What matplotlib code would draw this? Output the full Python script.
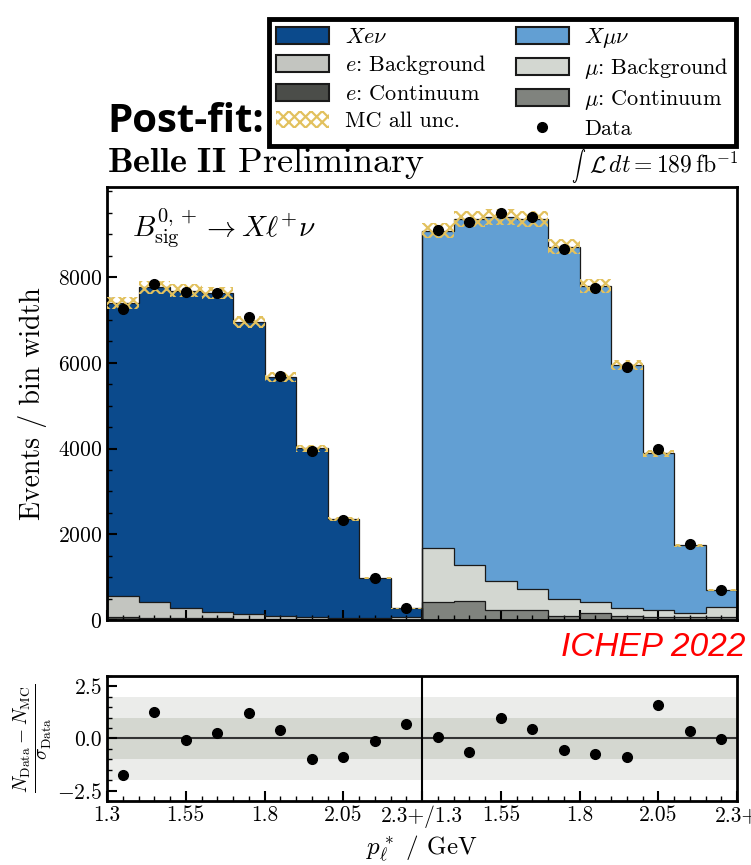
import numpy as np
import matplotlib
matplotlib.use("Agg")
import matplotlib.pyplot as plt
from matplotlib.patches import Patch
from matplotlib.lines import Line2D
from matplotlib.ticker import MultipleLocator, FixedLocator

plt.rcParams["font.family"] = "cmr10"
plt.rcParams["mathtext.fontset"] = "cm"
plt.rcParams["axes.formatter.use_mathtext"] = True
plt.rcParams["hatch.linewidth"] = 1.6

# ------------------------------------------------------------
# Data (p_l* bins of 0.1 GeV, 1.3 .. 2.3+), per channel
# ------------------------------------------------------------
x_ticklabels = ["1.3", "1.55", "1.8", "2.05", "2.3+/1.3", "1.55", "1.8", "2.05", "2.3+"]

e_signal = [6827, 7332, 7393, 7432, 6826, 5567, 3926, 2301, 943, 202]
e_bkg = [507, 373, 238, 150, 97, 71, 53, 35, 30, 58]
e_cont = [60, 55, 50, 45, 35, 30, 25, 20, 15, 12]
e_unc = [150, 155, 150, 150, 140, 110, 80, 45, 20, 8]
e_data = [7254, 7837, 7658, 7635, 7075, 5691, 3950, 2332, 972, 288]
e_pull = [-1.76, 1.25, -0.08, 0.24, 1.22, 0.41, -0.97, -0.87, -0.13, 0.71]

mu_signal = [7408, 8063, 8492, 8616, 8226, 7387, 5675, 3661, 1578, 405]
mu_bkg = [1260, 840, 684, 497, 389, 257, 179, 148, 109, 233]
mu_cont = [412, 443, 233, 233, 93, 155, 93, 78, 62, 62]
mu_unc = [180, 185, 185, 185, 175, 160, 120, 75, 35, 15]
mu_data = [9096, 9276, 9502, 9409, 8646, 7753, 5909, 3980, 1773, 700]
mu_pull = [0.06, -0.63, 1.0, 0.46, -0.56, -0.73, -0.87, 1.59, 0.35, -0.02]

# colours
C_E_SIG = "#0b4a8c"
C_MU_SIG = "#629fd3"
C_E_BKG = "#c3c5c0"
C_MU_BKG = "#d3d7d1"
C_E_CONT = "#4b4d49"
C_MU_CONT = "#80837e"
C_UNC = "#e2c15e"
EDGE = "#1a1a1a"

fig = plt.figure(figsize=(7.51, 8.65), dpi=100)
ax = fig.add_axes([0.1425, 0.2832, 0.839, 0.5006])
rax = fig.add_axes([0.1425, 0.0740, 0.839, 0.1445])


def draw_channel(offset, sig, bkg, cont, unc, data, c_sig, c_bkg, c_cont):
    n = len(sig)
    left = np.arange(n) + offset
    edges = np.arange(n + 1) + offset
    cont = np.array(cont, float)
    bkg = np.array(bkg, float)
    sig = np.array(sig, float)
    ax.bar(left, cont, width=1, align="edge", color=c_cont, lw=0, zorder=1)
    ax.bar(left, bkg, bottom=cont, width=1, align="edge", color=c_bkg, lw=0, zorder=1)
    ax.bar(left, sig, bottom=cont + bkg, width=1, align="edge", color=c_sig, lw=0, zorder=1)
    total = cont + bkg + sig
    for top in (cont, cont + bkg, total):
        ax.stairs(top, edges, color=EDGE, lw=0.9, zorder=2)
    ax.vlines([edges[0], edges[-1]], 0, [total[0], total[-1]], color=EDGE, lw=0.9, zorder=2)
    unc = np.array(unc, float)
    ax.bar(left, 2 * unc, bottom=total - unc, width=1, align="edge",
           facecolor="none", edgecolor=C_UNC, hatch="xxx", lw=0, zorder=3)
    ax.errorbar(left + 0.5, data, yerr=np.sqrt(data) * 0.6, fmt="o", color="black",
                ms=7, elinewidth=1.5, capsize=0, zorder=4)


draw_channel(0, e_signal, e_bkg, e_cont, e_unc, e_data, C_E_SIG, C_E_BKG, C_E_CONT)
draw_channel(10, mu_signal, mu_bkg, mu_cont, mu_unc, mu_data, C_MU_SIG, C_MU_BKG, C_MU_CONT)

ax.set_xlim(0, 20)
ax.set_ylim(0, 10100)
ax.yaxis.set_major_locator(FixedLocator([0, 2000, 4000, 6000, 8000]))
ax.yaxis.set_minor_locator(MultipleLocator(500))
ax.xaxis.set_major_locator(FixedLocator([0, 2.5, 5, 7.5, 10, 12.5, 15, 17.5, 20]))
ax.xaxis.set_minor_locator(MultipleLocator(0.5))
ax.tick_params(axis="x", labelbottom=False)
ax.set_ylabel("Events / bin width", fontsize=20, labelpad=8)

# ratio panel
rax.axhspan(-2, 2, color="#ebecea", lw=0, zorder=0)
rax.axhspan(-1, 1, color="#d4d7d0", lw=0, zorder=0)
rax.axhline(0, color="#333333", lw=1.5, zorder=1)
rax.axvline(10, color="black", lw=1.5, zorder=1)
centers = np.arange(20) + 0.5
rax.plot(centers, e_pull + mu_pull, "o", color="black", ms=7, zorder=3)
rax.set_xlim(0, 20)
rax.set_ylim(-3, 3)
rax.yaxis.set_major_locator(FixedLocator([-2.5, 0, 2.5]))
rax.yaxis.set_minor_locator(MultipleLocator(0.5))
rax.set_yticklabels([r"$-2.5$", "0.0", "2.5"])
rax.xaxis.set_major_locator(FixedLocator([0, 2.5, 5, 7.5, 10, 12.5, 15, 17.5, 20]))
rax.xaxis.set_minor_locator(MultipleLocator(0.5))
rax.set_xticklabels(x_ticklabels)
rax.set_ylabel(r"$\frac{N_{\rm Data}-N_{\rm MC}}{\sigma_{\rm Data}}$", fontsize=20, labelpad=2)
rax.set_xlabel(r"$p_\ell^*$ / GeV", fontsize=18)

for a in (ax, rax):
    for s in a.spines.values():
        s.set_linewidth(2.0)
    a.tick_params(which="both", direction="in", top=False, right=False, labelsize=15.5)
    a.tick_params(which="major", length=7, width=1.5)
    a.tick_params(which="minor", length=3.5, width=1.0)

# annotations
ax.text(0.04, 0.955, r"$B^{0,+}_{\rm sig}\rightarrow X\ell^{+}\nu$", transform=ax.transAxes,
        fontsize=21, ha="left", va="top")
fig.text(0.1425, 1 - 163 / 865, r"$\mathbf{Belle\ II}$ Preliminary", fontsize=26,
         ha="left", va="center")
lumi = fig.text(0.983, 1 - 165 / 865, r"$\mathcal{L}\,dt = 189\,\mathrm{fb}^{-1}$",
                fontsize=17, ha="right", va="center")
fig.canvas.draw()
bb = lumi.get_window_extent().transformed(fig.transFigure.inverted())
fig.text(bb.x0 - 0.004, 1 - 166 / 865, r"$\int$", fontsize=10, ha="right", va="center")
fig.text(0.1425, 1 - 121 / 865, "Post-fit:", fontsize=29, fontweight="bold",
         family="Open Sans", ha="left", va="center")
fig.text(0.993, 1 - 648 / 865, "ICHEP 2022", fontsize=24, style="italic",
         family="Liberation Sans", color="red", ha="right", va="center")

handles = [
    Patch(facecolor=C_E_SIG, edgecolor=EDGE, lw=1.5),
    Patch(facecolor=C_E_BKG, edgecolor=EDGE, lw=1.5),
    Patch(facecolor=C_E_CONT, edgecolor=EDGE, lw=1.5),
    Patch(facecolor="white", edgecolor=C_UNC, hatch="xxx", lw=0),
    Patch(facecolor=C_MU_SIG, edgecolor=EDGE, lw=1.5),
    Patch(facecolor=C_MU_BKG, edgecolor=EDGE, lw=1.5),
    Patch(facecolor=C_MU_CONT, edgecolor=EDGE, lw=1.5),
    Line2D([], [], marker="o", color="black", ms=7, lw=0),
]
labels = [r"$Xe\nu$", r"$e$: Background", r"$e$: Continuum", "MC all unc.",
          r"$X\mu\nu$", r"$\mu$: Background", r"$\mu$: Continuum", "Data"]
leg = fig.legend(handles, labels, ncol=2, loc="upper right",
                 bbox_to_anchor=(747 / 751, 1 - 8 / 865), fontsize=16,
                 frameon=True, fancybox=False, edgecolor="black", framealpha=1,
                 handlelength=2.4, handleheight=0.8, labelspacing=0.3,
                 columnspacing=1.3, borderpad=0.3, handletextpad=0.7)
leg.get_frame().set_linewidth(3.5)

fig.savefig("out.png", dpi=100)
